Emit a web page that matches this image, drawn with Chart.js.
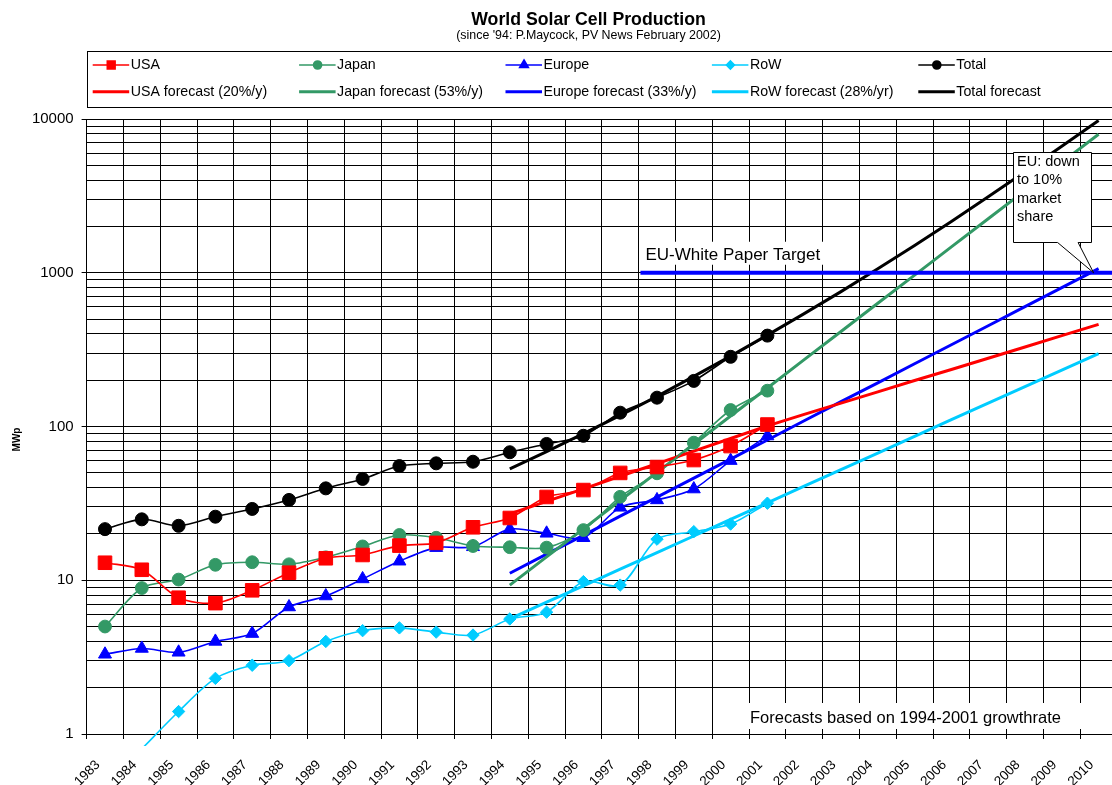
<!DOCTYPE html>
<html>
<head>
<meta charset="utf-8">
<title>World Solar Cell Production</title>
<script src="https://cdn.jsdelivr.net/npm/chart.js@4/dist/chart.umd.min.js"></script>
<style>
  html, body { margin: 0; padding: 0; background: #fff; overflow: hidden; }
  #wrap { position: relative; width: 1120px; height: 785px; overflow: hidden; }
  #chart { display: block; width: 1120px; height: 785px; }
</style>
</head>
<body>
<div id="wrap"><canvas id="chart" width="1120" height="785"></canvas></div>
<script>
// ---- data (MWp) ----
const years = ['1983','1984','1985','1986','1987','1988','1989','1990','1991','1992',
  '1993','1994','1995','1996','1997','1998','1999','2000','2001','2002','2003','2004',
  '2005','2006','2007','2008','2009','2010'];

// measured production 1983-2001
const usaMW    = [13.0, 11.7, 7.7, 7.1, 8.6, 11.2, 13.9, 14.6, 16.8, 17.5, 22.1, 25.4, 34.8, 38.6, 49.9, 54.5, 60.5, 74.6, 103];
const japanMW  = [5.0, 8.9, 10.1, 12.6, 13.1, 12.7, 14.1, 16.6, 19.7, 18.9, 16.7, 16.4, 16.3, 21.2, 34.9, 49.6, 78.5, 128, 171];
const europeMW = [3.3, 3.6, 3.4, 4.0, 4.5, 6.7, 7.9, 10.2, 13.3, 16.3, 16.5, 21.5, 20.2, 18.9, 29.8, 33.3, 39.2, 60, 86.7];
const rowMW    = [null, 0.8, 1.4, 2.3, 2.8, 3.0, 4.0, 4.7, 4.9, 4.6, 4.4, 5.6, 6.2, 9.8, 9.3, 18.5, 20.7, 23.2, 31.7];
const totalMW  = [21.5, 24.9, 22.6, 25.9, 29.1, 33.3, 39.6, 45.6, 55.3, 57.6, 59.0, 68, 77, 87, 123, 154, 198, 284, 390];

// forecasts 1994-2010
const usaForecast    = [null,null,null,null,null,null,null,null,null,null,null,
  27, 32.6, 39.3, 47.5, 57.3, 69.2, 83.5, 101, 120, 142, 168, 199, 235, 278, 329, 390, 462];
const japanForecast  = [null,null,null,null,null,null,null,null,null,null,null,
  9.3, 14.2, 21.6, 33.0, 50.3, 76.7, 117, 178, 272, 415, 633, 965, 1472, 2245, 3423, 5220, 7961];
const europeForecast = [null,null,null,null,null,null,null,null,null,null,null,
  11.1, 14.8, 19.6, 26.1, 34.7, 46.2, 61.4, 81.7, 109, 145, 192, 256, 340, 452, 602, 800, 1065];
const rowForecast    = [null,null,null,null,null,null,null,null,null,null,null,
  5.6, 7.2, 9.2, 11.8, 15.1, 19.4, 24.9, 31.9, 40.9, 52.4, 67.2, 86.2, 111, 142, 182, 233, 298];
const totalForecast  = [null,null,null,null,null,null,null,null,null,null,null,
  53, 68.7, 89.8, 118, 157, 212, 287, 393, 542, 754, 1061, 1506, 2158, 3117, 4536, 6643, 9786];

// EU White Paper target level and the category position it starts from
const targetValue = 1000;
const targetFromIndex = 14.55;   // between 1997 and 1998

// y axis: gridlines on every 1..9 multiple, labels on the decades
const yDecades = [1, 10, 100, 1000];
const yMultiples = [1, 2, 3, 4, 5, 6, 7, 8, 9];
const yLabelValues = [1, 10, 100, 1000, 10000];

// legend texts
const legendLabels = ['USA', 'Japan', 'Europe', 'RoW', 'Total',
  'USA forecast (20%/y)', 'Japan forecast (53%/y)', 'Europe forecast (33%/y)',
  'RoW forecast (28%/yr)', 'Total forecast'];

const titleText = 'World Solar Cell Production';
const subtitleText = "(since '94: P.Maycock, PV News February 2002)";
const targetText = 'EU-White Paper Target';
const calloutLines = ['EU: down', 'to 10%', 'market', 'share'];
const footText = 'Forecasts based on 1994-2001 growthrate';
const yTitle = 'MWp';

// ---- styling ----
const FONT = '"Liberation Sans", Arial, Helvetica, sans-serif';
const RED = '#FF0000', GREEN = '#339966', BLUE = '#0000FF', CYAN = '#00CCFF', BLACK = '#000000';

const yGridValues = [];
yDecades.forEach(d => yMultiples.forEach(m => yGridValues.push(d * m)));
yGridValues.push(10000);

function measured(label, data, color, style, radius) {
  return {
    label, data, borderColor: color, backgroundColor: color,
    borderWidth: 1.6, pointStyle: style, pointRadius: radius, pointHoverRadius: radius,
    pointBorderColor: color, pointBackgroundColor: color, pointBorderWidth: 1,
    tension: 0.3, fill: false, legendRadius: style === 'rect' ? 5.5 : (style === 'triangle' ? 5 : 4)
  };
}
function forecast(label, data, color) {
  return {
    label, data, borderColor: color, backgroundColor: color,
    borderWidth: 3, pointRadius: 0, pointHoverRadius: 0, tension: 0, fill: false
  };
}

const rowSeries = measured(legendLabels[3], rowMW, CYAN, 'rectRot', 6.2);
// the RoW line runs a little past the bottom axis before it is cut
rowSeries.clip = { left: 2, top: 2, right: 2, bottom: 12 };

const datasets = [
  measured(legendLabels[0], usaMW, RED, 'rect', 9.6),
  measured(legendLabels[1], japanMW, GREEN, 'circle', 6.4),
  measured(legendLabels[2], europeMW, BLUE, 'triangle', 7.5),
  rowSeries,
  measured(legendLabels[4], totalMW, BLACK, 'circle', 6.5),
  forecast(legendLabels[5], usaForecast, RED),
  forecast(legendLabels[6], japanForecast, GREEN),
  forecast(legendLabels[7], europeForecast, BLUE),
  forecast(legendLabels[8], rowForecast, CYAN),
  forecast(legendLabels[9], totalForecast, BLACK)
];

// ---- annotations, title and legend ----
const decor = {
  id: 'decor',
  beforeDatasetsDraw(chart) {
    const { ctx, chartArea: a, scales: { x, y } } = chart;
    const tx0 = x.getPixelForValue(targetFromIndex);
    const ty = y.getPixelForValue(targetValue);
    ctx.save();
    ctx.fillStyle = '#fff';
    ctx.fillRect(tx0 + 1, ty - 31, 184, 23);
    const fx = x.getPixelForValue(17.5);
    ctx.fillRect(fx - 6, a.bottom - 31, 342, 26);
    ctx.restore();
  },
  afterDatasetsDraw(chart) {
    const { ctx, chartArea: a, scales: { x, y } } = chart;
    const tx0 = x.getPixelForValue(targetFromIndex);
    const ty = y.getPixelForValue(targetValue);
    ctx.save();
    // target line
    ctx.strokeStyle = BLUE;
    ctx.lineWidth = 4;
    ctx.beginPath();
    ctx.moveTo(tx0, ty);
    ctx.lineTo(chart.width, ty);
    ctx.stroke();

    ctx.fillStyle = '#000';
    ctx.textBaseline = 'alphabetic';
    ctx.textAlign = 'left';
    ctx.font = '17px ' + FONT;
    ctx.fillText(targetText, tx0 + 5, ty - 13);

    // callout pointing at the 2010 Europe forecast
    const tipX = x.getPixelForValue(27) - 5;
    const L = Math.round(tipX - 81) + 0.5, R = Math.round(tipX - 3) + 0.5;
    const T = Math.round(ty - 121) + 0.5, B = Math.round(ty - 31) + 0.5;
    ctx.beginPath();
    ctx.moveTo(L, T); ctx.lineTo(R, T); ctx.lineTo(R, B);
    ctx.lineTo(tipX - 15.5, B); ctx.lineTo(tipX, ty); ctx.lineTo(tipX - 36, B);
    ctx.lineTo(L, B); ctx.closePath();
    ctx.fillStyle = '#fff';
    ctx.fill();
    ctx.strokeStyle = '#000';
    ctx.lineWidth = 1;
    ctx.stroke();
    ctx.fillStyle = '#000';
    ctx.font = '14.5px ' + FONT;
    ctx.textBaseline = 'middle';
    calloutLines.forEach((t, i) => ctx.fillText(t, L + 3.5, ty - 111 + i * 18.4));

    // footnote
    ctx.font = '16.5px ' + FONT;
    ctx.fillText(footText, x.getPixelForValue(17.5) + 1, a.bottom - 16);
    ctx.restore();
  },
  afterDraw(chart) {
    const { ctx, chartArea: a } = chart;
    ctx.save();
    ctx.fillStyle = '#000';
    ctx.textAlign = 'center';
    ctx.textBaseline = 'alphabetic';
    ctx.font = 'bold 17.7px ' + FONT;
    ctx.fillText(titleText, 588.5, 25);
    ctx.font = '12.4px ' + FONT;
    ctx.fillText(subtitleText, 588.5, 38.5);

    // y axis title
    ctx.save();
    ctx.translate(a.left - 69, (a.top + a.bottom) / 2 + 13);
    ctx.rotate(-Math.PI / 2);
    ctx.font = 'bold 10px ' + FONT;
    ctx.textBaseline = 'middle';
    ctx.fillText(yTitle, 0, 0);
    ctx.restore();

    // legend box
    ctx.strokeStyle = '#000';
    ctx.lineWidth = 1;
    ctx.strokeRect(Math.round(a.left) + 0.5, 51.5, chart.width, 56);
    ctx.textAlign = 'left';
    ctx.textBaseline = 'middle';
    ctx.font = '14.2px ' + FONT;
    const colX0 = 130.7, colStep = 206.4, rowY = [65, 91.7];
    chart.data.datasets.forEach((ds, i) => {
      const col = i % 5, row = Math.floor(i / 5);
      const tx = colX0 + col * colStep, yy = rowY[row];
      ctx.strokeStyle = ds.borderColor;
      ctx.lineWidth = ds.borderWidth;
      ctx.beginPath();
      ctx.moveTo(tx - 38, yy);
      ctx.lineTo(tx - 1.5, yy);
      ctx.stroke();
      if (ds.pointRadius > 0) {
        ctx.fillStyle = ds.borderColor;
        ctx.strokeStyle = ds.borderColor;
        Chart.helpers.drawPoint(ctx, { pointStyle: ds.pointStyle, radius: ds.legendRadius, borderWidth: 1, rotation: 0 },
          tx - 19.5, yy);
        ctx.fill();
      }
      ctx.fillStyle = '#000';
      ctx.fillText(ds.label, tx, yy + 0.5);
    });
    ctx.restore();
  }
};

new Chart(document.getElementById('chart'), {
  type: 'line',
  data: { labels: years, datasets },
  plugins: [decor],
  options: {
    responsive: false,
    animation: false,
    devicePixelRatio: 1,
    layout: { autoPadding: false, padding: { left: 33, right: 3, top: 119, bottom: 0 } },
    elements: { line: { capBezierPoints: false } },
    plugins: { legend: { display: false }, title: { display: false }, tooltip: { enabled: false } },
    scales: {
      x: {
        type: 'category',
        offset: true,
        afterFit: (s) => { s.height = 51; s.paddingLeft = 0; s.paddingRight = 0; },
        grid: { offset: true, color: '#000', lineWidth: 1, tickLength: 5, tickColor: '#000' },
        border: { color: '#000', width: 1 },
        ticks: {
          autoSkip: false, minRotation: 45, maxRotation: 45, padding: 18, labelOffset: -7,
          color: '#000', font: { family: FONT, size: 13.5 }
        }
      },
      y: {
        type: 'logarithmic',
        min: 1, max: 10000,
        afterFit: (s) => { s.width = 53.6; s.paddingTop = 0; s.paddingBottom = 0; },
        afterBuildTicks: (scale) => { scale.ticks = yGridValues.map(v => ({ value: v })); },
        grid: {
          color: '#000', lineWidth: 1, tickLength: 5,
          tickColor: (c) => (c.tick && yLabelValues.includes(c.tick.value)) ? '#000' : 'rgba(0,0,0,0)'
        },
        border: { color: '#000', width: 1 },
        ticks: {
          autoSkip: false, padding: 8, color: '#000', font: { family: FONT, size: 15 },
          callback: (v) => yLabelValues.includes(v) ? String(v) : ''
        }
      }
    }
  }
});
</script>
</body>
</html>
